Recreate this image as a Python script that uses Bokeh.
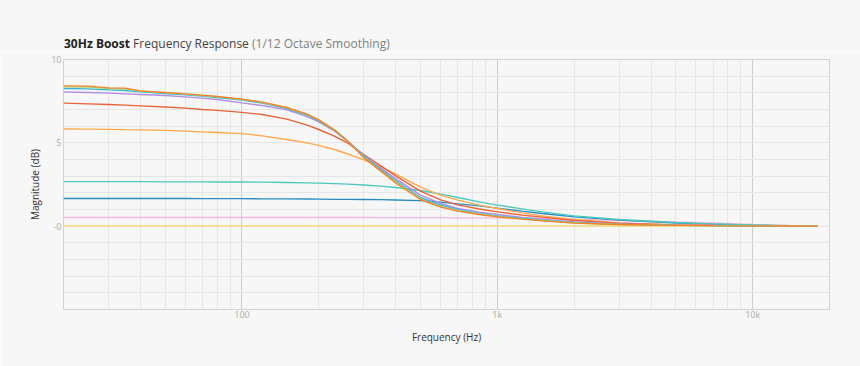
from bokeh.plotting import figure
from bokeh.models import Range1d, FixedTicker, Grid, Div
from bokeh.layouts import column
from bokeh.embed import file_html
from bokeh.resources import INLINE

# ---- data -------------------------------------------------------------
freq = [20, 25, 30, 35, 40, 50, 60, 70, 80, 100, 120, 150, 180, 200, 230, 260,
        300, 350, 400, 500, 600, 700, 850, 1000, 1250, 1500, 2000, 3000, 5000,
        7000, 10000, 14000, 18000]

yellow = [0.02, 0.02, 0.02, 0.02, 0.02, 0.02, 0.02, 0.02, 0.02, 0.02, 0.02, 0.02,
          0.02, 0.02, 0.02, 0.02, 0.02, 0.02, 0.02, 0.02, 0.02, 0.02, 0.02, 0.02,
          0.02, 0.02, 0.02, 0.01, 0.01, 0.01, 0.0, 0.0, 0.0]
pink = [0.52, 0.52, 0.52, 0.52, 0.52, 0.52, 0.52, 0.52, 0.52, 0.52, 0.52, 0.52,
        0.52, 0.52, 0.52, 0.52, 0.52, 0.51, 0.51, 0.51, 0.51, 0.50, 0.50, 0.50,
        0.48, 0.46, 0.42, 0.34, 0.26, 0.20, 0.11, 0.05, 0.02]
dark_blue = [1.66, 1.66, 1.66, 1.66, 1.66, 1.66, 1.66, 1.65, 1.65, 1.65, 1.64, 1.64,
             1.63, 1.62, 1.61, 1.61, 1.60, 1.59, 1.57, 1.53, 1.44, 1.34, 1.22, 1.08,
             0.90, 0.76, 0.56, 0.36, 0.19, 0.12, 0.06, 0.02, 0.01]
teal = [2.67, 2.67, 2.67, 2.67, 2.67, 2.66, 2.66, 2.66, 2.65, 2.65, 2.64, 2.62,
        2.60, 2.58, 2.55, 2.52, 2.47, 2.40, 2.32, 2.14, 1.92, 1.72, 1.46, 1.26,
        1.04, 0.86, 0.62, 0.40, 0.22, 0.14, 0.07, 0.03, 0.01]
light_orange = [5.83, 5.82, 5.81, 5.79, 5.78, 5.75, 5.70, 5.66, 5.62, 5.55, 5.42, 5.20,
                5.00, 4.85, 4.60, 4.33, 3.98, 3.55, 3.12, 2.34, 1.86, 1.56, 1.26, 1.06,
                0.80, 0.62, 0.40, 0.20, 0.08, 0.05, 0.03, 0.01, 0.0]
red_orange = [7.38, 7.34, 7.30, 7.26, 7.22, 7.15, 7.08, 7.00, 6.95, 6.83, 6.70, 6.42,
              6.06, 5.80, 5.40, 4.98, 4.30, 3.62, 3.02, 2.10, 1.58, 1.28, 1.03, 0.86,
              0.66, 0.54, 0.34, 0.18, 0.08, 0.05, 0.03, 0.01, 0.0]
purple = [8.06, 8.02, 7.98, 7.94, 7.90, 7.84, 7.76, 7.68, 7.60, 7.40, 7.24, 6.98,
          6.58, 6.26, 5.72, 5.08, 4.25, 3.47, 2.85, 1.86, 1.36, 1.06, 0.84, 0.70,
          0.52, 0.42, 0.25, 0.13, 0.06, 0.04, 0.02, 0.01, 0.0]
cyan = [8.26, 8.24, 8.18, 8.14, 8.06, 7.96, 7.88, 7.80, 7.72, 7.56, 7.38, 7.06,
        6.66, 6.32, 5.76, 5.10, 4.20, 3.38, 2.74, 1.72, 1.26, 0.99, 0.77, 0.62,
        0.47, 0.36, 0.21, 0.11, 0.05, 0.03, 0.02, 0.01, 0.0]
green = [8.36, 8.34, 8.26, 8.22, 8.10, 8.00, 7.92, 7.84, 7.76, 7.60, 7.42, 7.10,
         6.70, 6.36, 5.78, 5.10, 4.15, 3.32, 2.66, 1.64, 1.19, 0.94, 0.73, 0.58,
         0.44, 0.34, 0.19, 0.10, 0.05, 0.03, 0.02, 0.01, 0.0]
orange = [8.42, 8.40, 8.30, 8.28, 8.12, 8.02, 7.94, 7.86, 7.78, 7.62, 7.44, 7.12,
          6.72, 6.38, 5.78, 5.08, 4.10, 3.30, 2.60, 1.60, 1.14, 0.90, 0.70, 0.56,
          0.42, 0.32, 0.18, 0.10, 0.05, 0.03, 0.02, 0.01, 0.0]

series = [yellow, pink, dark_blue, teal, light_orange, red_orange, purple, cyan, green, orange]
colors = ["#f6d86b", "#f7b8dc", "#2a8cbf", "#4cc9bd", "#ffa94d", "#e8633a",
          "#b08ee0", "#3ab5d9", "#a3d977", "#f5822a"]

y_ticks = [0, 5, 10]
y_tick_labels = {0: "-0", 5: "5", 10: "10"}
y_grid_ticks = list(range(-5, 11))
x_ticks = [100, 1000, 10000]
x_tick_labels = {100: "100", 1000: "1k", 10000: "10k"}
x_minor_ticks = [30, 40, 50, 60, 70, 80, 90, 200, 300, 400, 500, 600, 700, 800, 900,
                 2000, 3000, 4000, 5000, 6000, 7000, 8000, 9000]

title_bold = "30Hz Boost"
title_main = "Frequency Response"
title_sub = "(1/12 Octave Smoothing)"

# ---- figure -----------------------------------------------------------
BG = "#f7f7f7"
FONT = "Open Sans"

fig = figure(width=860, height=314, x_axis_type="log",
             x_range=Range1d(20, 20000), y_range=Range1d(-5, 10),
             output_backend="svg", toolbar_location=None,
             min_border_left=63, min_border_right=31,
             min_border_top=7, min_border_bottom=57)
fig.background_fill_color = BG
fig.border_fill_color = BG
fig.outline_line_color = "#d2d2d2"
fig.outline_line_width = 1

# grids
fig.ygrid.ticker = FixedTicker(ticks=y_grid_ticks)
fig.ygrid.grid_line_color = "#e6e6e6"
fig.xgrid.ticker = FixedTicker(ticks=x_ticks)
fig.xgrid.grid_line_color = "#cccccc"
minor = Grid(dimension=0, ticker=FixedTicker(ticks=x_minor_ticks),
             grid_line_color="#e6e6e6")
fig.add_layout(minor)

# axes
for ax in (fig.xaxis[0], fig.yaxis[0]):
    ax.axis_line_color = None
    ax.major_tick_line_color = None
    ax.minor_tick_line_color = None
    ax.major_tick_out = 0
    ax.major_tick_in = 0
    ax.minor_tick_out = 0
    ax.minor_tick_in = 0
    ax.major_label_text_font = FONT
    ax.major_label_text_font_size = "9px"
    ax.major_label_text_color = "#ababab"
    ax.axis_label_text_font = FONT
    ax.axis_label_text_font_size = "10px"
    ax.axis_label_text_font_style = "normal"
    ax.axis_label_text_color = "#333333"
    ax.major_label_standoff = 2

fig.xaxis.ticker = FixedTicker(ticks=x_ticks)
fig.xaxis.major_label_overrides = x_tick_labels
fig.xaxis.axis_label = "Frequency (Hz)"
fig.xaxis.major_label_standoff = -2
fig.xaxis.axis_label_standoff = 6

fig.yaxis.ticker = FixedTicker(ticks=y_ticks)
fig.yaxis.major_label_overrides = y_tick_labels
fig.yaxis.axis_label = "Magnitude (dB)"
fig.yaxis.axis_label_standoff = 6

# lines
for ys, c in zip(series, colors):
    fig.line(freq, ys, line_color=c, line_width=1.4)

# title (mixed styles) as real text above the plot
title_html = (
    '<div style="padding:36px 0 0 64px; white-space:nowrap; '
    "font-family:'Open Sans', sans-serif; font-size:12px; line-height:16px;\">"
    f'<span style="font-weight:bold; color:#222222;">{title_bold}</span> '
    f'<span style="color:#444444;">{title_main}</span> '
    f'<span style="color:#808080;">{title_sub}</span></div>'
)
title_div = Div(text=title_html, width=860, height=52, margin=0,
                styles={"background-color": BG})

p = column(title_div, fig, spacing=0)

open("out.html", "w").write(file_html(p, INLINE))
